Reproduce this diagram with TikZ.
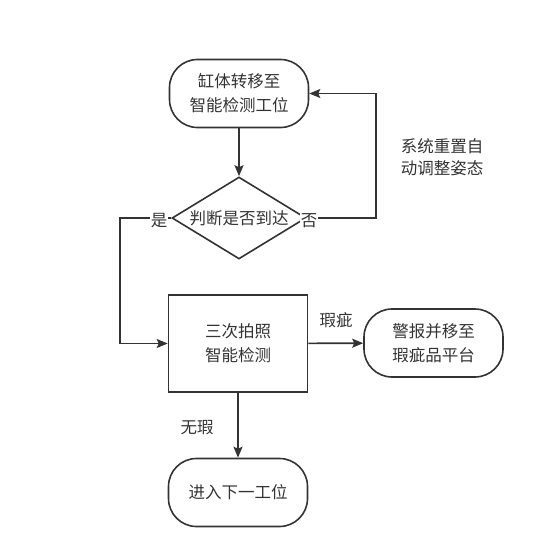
\documentclass[tikz,border=0pt]{standalone}
\usepackage{fontspec}
\newfontfamily\cjk{Noto Sans CJK SC}
\usetikzlibrary{arrows.meta,shapes.geometric}
\definecolor{ink}{HTML}{333333}
\begin{document}
\begin{tikzpicture}[x=1pt,y=-1pt,
  every node/.style={font=\cjk\fontsize{16.5}{24}\selectfont,text=ink},
  term/.style={draw=ink,line width=1.6pt,rectangle,rounded corners=28pt,
    minimum width=139pt,minimum height=68pt,align=center,inner sep=0pt},
  proc/.style={draw=ink,line width=1.6pt,rectangle,
    minimum width=139pt,minimum height=97pt,align=center,inner sep=0pt},
  decide/.style={draw=ink,line width=1.6pt,diamond,aspect=1.65,
    minimum width=134pt,minimum height=82pt,inner sep=0pt},
  lbl/.style={fill=white,inner sep=1pt},
  flow/.style={draw=ink,line width=1.6pt,-{Stealth[length=11pt,width=9pt,inset=2pt]}}]
\useasboundingbox (0,0) rectangle (544,543);
% nodes
\node[term] (move) at (239,93.5) {缸体转移至\\智能检测工位};
\node[decide] (check) at (239,218) {判断是否到达};
\node[proc] (shoot) at (238,343.5) {三次拍照\\智能检测};
\node[term] (alarm) at (433.5,343) {警报并移至\\瑕疵品平台};
\node[term] (next) at (238,492.5) {进入下一工位};
\coordinate (yesL) at (120,218);
\coordinate (noR) at (376,218);
% connectors
\draw[flow] (move) -- (check);
\draw[flow] (check.east) -- (noR) |- (move.east);
\draw[flow] (check.west) -- (yesL) |- (shoot.west);
\draw[flow] (shoot) -- (alarm);
\draw[flow] (shoot) -- (next);
% labels
\node[lbl] at (309,221) {否};
\node[lbl] at (159,221) {是};
\node[align=left,font=\cjk\fontsize{16.5}{22}\selectfont] at (442,157) {系统重置自\\动调整姿态};
\node at (336,320) {瑕疵};
\node at (197,428) {无瑕};
\end{tikzpicture}
\end{document}
